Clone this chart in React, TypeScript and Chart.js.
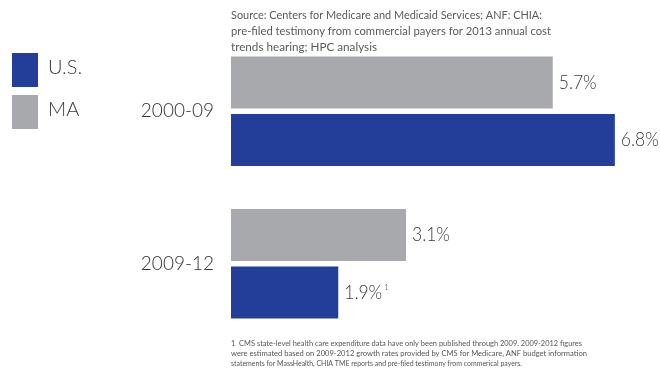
import React, { useEffect, useRef } from "react";
import { Chart, registerables } from "chart.js";

Chart.register(...registerables);

const categories = ["2000-09", "2009-12"];
const usValues = [6.8, 1.9];
const maValues = [5.7, 3.1];
const seriesNames = ["MA", "U.S."];
const sourceLines = [
  "Source: Centers for Medicare and Medicaid Services; ANF: CHIA:",
  "pre-filed testimony from commercial payers for 2013 annual cost",
  "trends hearing; HPC analysis",
];
const footnoteLines = [
  "1  CMS state-level health care expenditure data have only been published through 2009. 2009-2012 figures",
  "were estimated based on 2009-2012 growth rates provided by CMS for Medicare, ANF budget information",
  "statements for MassHealth, CHIA TME reports and pre-filed testimony from commerical payers.",
];
const footnoteMarks = [null, "1"];

const BLUE = "#233E98";
const GRAY = "#A8A9AD";
const FONT = "Lato";

const overlayPlugin = {
  id: "overlay",
  afterDraw(chart: any) {
    const ctx = chart.ctx;
    const area = chart.chartArea;
    ctx.save();
    // legend
    const legend = [
      { label: "U.S.", color: BLUE, y: 53 },
      { label: "MA", color: GRAY, y: 95 },
    ];
    legend.forEach((l) => {
      ctx.fillStyle = l.color;
      ctx.fillRect(12, l.y, 26, 34);
      ctx.fillStyle = "#3a3a3a";
      ctx.font = `300 20px ${FONT}`;
      ctx.textBaseline = "middle";
      ctx.textAlign = "left";
      ctx.fillText(l.label, 48, l.y + 15);
    });
    // source text
    ctx.fillStyle = "#5a5a5a";
    ctx.font = `400 12px ${FONT}`;
    ctx.textBaseline = "middle";
    const srcW = [311, 320, 146];
    sourceLines.forEach((t, i) => {
      ctx.fillText(t, area.left, 15 + i * 16, srcW[i]);
    });
    // footnote
    ctx.fillStyle = "#555";
    ctx.font = `400 8px ${FONT}`;
    const fnW = [351, 356, 291];
    footnoteLines.forEach((t, i) => {
      ctx.fillText(t, area.left, 343 + i * 10, fnW[i]);
    });
    // value labels
    ctx.fillStyle = "#3a3a3a";
    chart.data.datasets.forEach((ds: any, di: number) => {
      const meta = chart.getDatasetMeta(di);
      meta.data.forEach((bar: any, i: number) => {
        const txt = ds.data[i].toFixed(1) + "%";
        const x = bar.x + 6;
        ctx.font = `300 19px ${FONT}`;
        ctx.textBaseline = "middle";
        ctx.fillText(txt, x, bar.y, 38);
        const mark = ds.marks ? ds.marks[i] : null;
        if (mark) {
          const w = Math.min(ctx.measureText(txt).width, 38);
          ctx.font = `300 8px ${FONT}`;
          ctx.fillText(mark, x + w + 2, bar.y - 5);
        }
      });
    });
    ctx.restore();
  },
};

export default function App() {
  const ref = useRef<HTMLCanvasElement>(null);
  useEffect(() => {
    const chart = new Chart(ref.current!, {
      type: "bar",
      data: {
        labels: categories,
        datasets: [
          {
            label: seriesNames[0],
            data: maValues,
            backgroundColor: GRAY,
            categoryPercentage: 0.754,
            barPercentage: 0.905,
          } as any,
          {
            label: seriesNames[1],
            data: usValues,
            backgroundColor: BLUE,
            categoryPercentage: 0.754,
            barPercentage: 0.905,
            marks: footnoteMarks,
          } as any,
        ],
      },
      options: {
        indexAxis: "y",
        animation: false,
        responsive: false,
        devicePixelRatio: 1,
        layout: { padding: { top: 35, bottom: 29, right: 0, left: 0 } },
        plugins: {
          legend: { display: false },
          tooltip: { enabled: false },
        },
        scales: {
          x: {
            display: false,
            min: 0,
            max: 7.6,
          },
          y: {
            grid: { display: false, drawTicks: false },
            border: { display: false },
            ticks: {
              padding: 17,
              color: "#333",
              font: { family: FONT, size: 19, weight: "300" as any },
            },
            afterFit(scale: any) {
              scale.width = 231;
            },
          },
        },
      },
      plugins: [overlayPlugin],
    });
    return () => chart.destroy();
  }, []);
  return (
    <div style={{ position: "fixed", left: 0, top: 0, width: 660, height: 369, background: "#fff" }}>
      <canvas ref={ref} width={660} height={369} style={{ width: 660, height: 369 }} />
    </div>
  );
}
